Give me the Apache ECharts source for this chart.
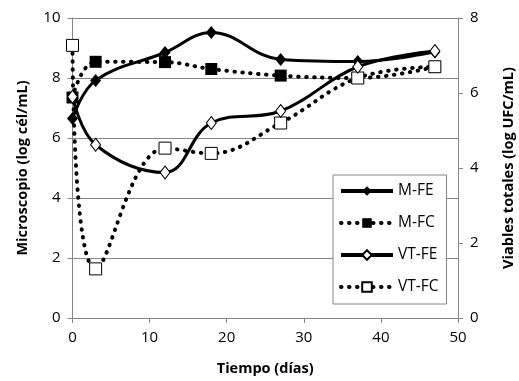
<!DOCTYPE html>
<html>
<head>
<meta charset="utf-8">
<script src="https://cdn.jsdelivr.net/npm/echarts@6/dist/echarts.min.js"></script>
<style>
  html, body { margin: 0; padding: 0; background: #fff; }
  #chart { width: 519px; height: 381px; }
</style>
</head>
<body>
<div id="chart"></div>
<script>
// tiempo (días)
const days = [0, 3, 12, 18, 27, 37, 47];
// microscopio, eje izquierdo (log cél/mL)
const mFE = [6.65, 7.92, 8.85, 9.52, 8.62, 8.55, 8.87];
const mFC = [7.35, 8.54, 8.53, 8.3, 8.08, 8.0, 8.37];
// viables totales, eje derecho (log UFC/mL)
const vtFE = [5.9, 4.62, 3.88, 5.2, 5.52, 6.7, 7.12];
const vtFC = [7.27, 1.31, 4.53, 4.39, 5.2, 6.4, 6.7];

const FONT = "Open Sans";
const GRAY = "#868686";

function pairs(ys) {
  return days.map((d, i) => [d, ys[i]]);
}

const chart = echarts.init(document.getElementById("chart"), null, { renderer: "canvas" });

const solid = { color: "#000", width: 3, type: "solid" };
const dotted = { color: "#000", width: 4, type: [0.5, 7.5], cap: "round" };

const tickLabel = { fontFamily: FONT, fontSize: 15, color: "#000", margin: 12 };
const axisTitle = { fontFamily: FONT, fontSize: 14.5, fontWeight: "bold", color: "#000" };

const option = {
  animation: false,
  textStyle: { fontFamily: FONT },
  grid: { left: 72.5, right: 61, top: 18, bottom: 63, outerBoundsMode: "none" },
  legend: {
    orient: "vertical",
    left: 333,
    top: 175,
    width: 110,
    padding: [8, 8, 9, 6],
    itemGap: 16,
    itemWidth: 52,
    itemHeight: 12,
    backgroundColor: "#fff",
    borderColor: GRAY,
    borderWidth: 1,
    lineStyle: { width: 4 },
    textStyle: { fontFamily: FONT, fontSize: 15.5, color: "#000" },
    data: ["M-FE", "M-FC", "VT-FE", "VT-FC"]
  },
  xAxis: {
    type: "value",
    min: 0,
    max: 50,
    interval: 10,
    name: "Tiempo (días)",
    nameLocation: "middle",
    nameGap: 43,
    nameTextStyle: axisTitle,
    axisLine: { show: true, lineStyle: { color: GRAY } },
    axisTick: { show: true, length: 5, lineStyle: { color: GRAY } },
    axisLabel: tickLabel,
    splitLine: { show: false }
  },
  yAxis: [
    {
      type: "value",
      min: 0,
      max: 10,
      interval: 2,
      name: "Microscopio (log cél/mL)",
      nameLocation: "middle",
      nameGap: 42,
      nameTextStyle: axisTitle,
      axisLine: { show: true, lineStyle: { color: GRAY } },
      axisTick: { show: true, length: 5, lineStyle: { color: GRAY } },
      axisLabel: tickLabel,
      splitLine: { show: true, lineStyle: { color: GRAY, width: 1 } }
    },
    {
      type: "value",
      min: 0,
      max: 8,
      interval: 2,
      position: "right",
      name: "Viables totales (log UFC/mL)",
      nameLocation: "middle",
      nameGap: 43,
      nameRotate: 90,
      nameTextStyle: axisTitle,
      axisLine: { show: true, lineStyle: { color: GRAY } },
      axisTick: { show: true, length: 5, lineStyle: { color: GRAY } },
      axisLabel: tickLabel,
      splitLine: { show: false }
    }
  ],
  series: [
    {
      name: "M-FE",
      type: "line",
      yAxisIndex: 0,
      smooth: 0.4,
      data: pairs(mFE),
      symbol: "diamond",
      symbolSize: [11, 13],
      itemStyle: { color: "#000" },
      lineStyle: solid,
      z: 4
    },
    {
      name: "M-FC",
      type: "line",
      yAxisIndex: 0,
      smooth: 0.4,
      data: pairs(mFC),
      symbol: "rect",
      symbolSize: 12,
      itemStyle: { color: "#000" },
      lineStyle: dotted,
      z: 3
    },
    {
      name: "VT-FE",
      type: "line",
      yAxisIndex: 1,
      smooth: 0.4,
      data: pairs(vtFE),
      symbol: "diamond",
      symbolSize: [10, 13],
      itemStyle: { color: "#fff", borderColor: "#000", borderWidth: 1 },
      lineStyle: solid,
      z: 4
    },
    {
      name: "VT-FC",
      type: "line",
      yAxisIndex: 1,
      smooth: 0.4,
      data: pairs(vtFC),
      symbol: "rect",
      symbolSize: 12,
      itemStyle: { color: "#fff", borderColor: "#000", borderWidth: 1 },
      lineStyle: dotted,
      z: 3
    }
  ]
};

chart.setOption(option);
</script>
</body>
</html>
